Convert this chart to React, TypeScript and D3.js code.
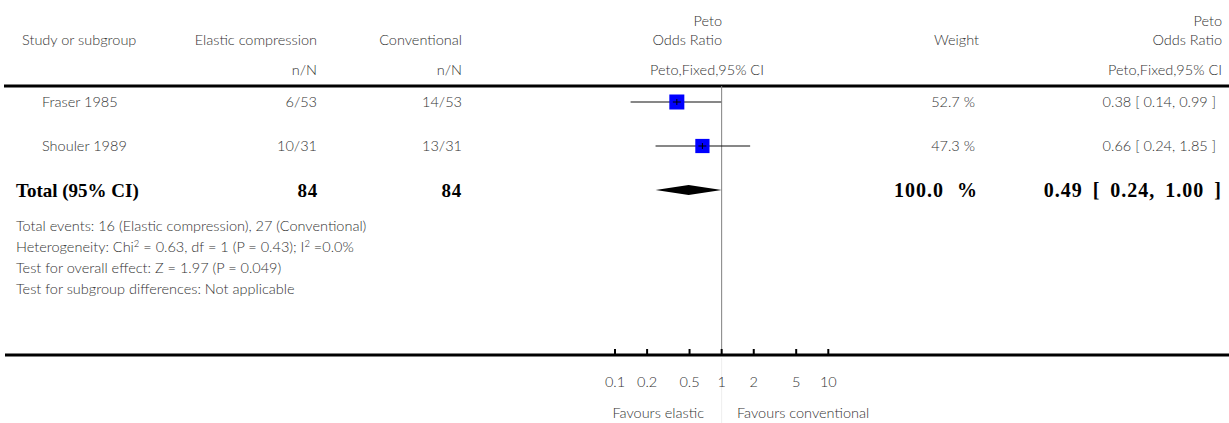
import React from "react";
import * as d3 from "d3";

const studies = ["Fraser 1985", "Shouler 1989"];
const elasticNN = ["6/53", "10/31"];
const conventionalNN = ["14/53", "13/31"];
const orValues = [0.38, 0.66];
const ciLow = [0.14, 0.24];
const ciHigh = [0.99, 1.85];
const weights = [52.7, 47.3];
const weightLabels = ["52.7 %", "47.3 %"];
const orLabels = ["0.38 [ 0.14, 0.99 ]", "0.66 [ 0.24, 1.85 ]"];
const totalOR = 0.49;
const totalLow = 0.24;
const totalHigh = 1.0;
const totalElastic = "84";
const totalConventional = "84";
const totalWeight = "100.0 %";
const totalLabel = "0.49 [ 0.24, 1.00 ]";
const ticks = [0.1, 0.2, 0.5, 1, 2, 5, 10];
const tickLabels = ["0.1", "0.2", "0.5", "1", "2", "5", "10"];

const SANS = "'Lato', 'Open Sans', sans-serif";
const SERIF = "'Liberation Serif', 'DejaVu Serif', serif";
const TXT = "#333";

export default function App() {
  const W = 1229;
  const H = 423;
  const x = d3.scaleLog().domain([0.1, 10]).range([615, 828.3]);
  const rowY = [102, 146];
  const totalY = 190;
  const headLineY = 86;
  const axisY = 355;
  const fs = 14.5;
  const sq = (w: number) => 15 * Math.sqrt(w / d3.max(weights)!);

  const diamond = [
    [x(totalLow), totalY],
    [x(totalOR), totalY - 5],
    [x(totalHigh), totalY],
    [x(totalOR), totalY + 5],
  ];

  const sansProps = { fontFamily: SANS, fontSize: fs, fill: TXT, fontWeight: 300 } as const;
  const boldProps = { fontFamily: SERIF, fontSize: 19, fill: "#000", fontWeight: 700 } as const;

  return (
    <svg width={W} height={H} style={{ position: "absolute", left: 0, top: 0 }}>
      <rect width={W} height={H} fill="#fff" />
      {/* headers */}
      <text x={22} y={45} {...sansProps}>Study or subgroup</text>
      <text x={317} y={45} textAnchor="end" {...sansProps}>Elastic compression</text>
      <text x={317} y={75} textAnchor="end" {...sansProps}>n/N</text>
      <text x={462} y={45} textAnchor="end" {...sansProps}>Conventional</text>
      <text x={462} y={75} textAnchor="end" {...sansProps}>n/N</text>
      <text x={722} y={26} textAnchor="end" {...sansProps}>Peto</text>
      <text x={722} y={45} textAnchor="end" {...sansProps}>Odds Ratio</text>
      <text x={707} y={75} textAnchor="middle" {...sansProps}>Peto,Fixed,95% CI</text>
      <text x={979} y={45} textAnchor="end" {...sansProps}>Weight</text>
      <text x={1222} y={26} textAnchor="end" {...sansProps}>Peto</text>
      <text x={1222} y={45} textAnchor="end" {...sansProps}>Odds Ratio</text>
      <text x={1222} y={75} textAnchor="end" {...sansProps}>Peto,Fixed,95% CI</text>
      <line x1={4} x2={W} y1={headLineY} y2={headLineY} stroke="#000" strokeWidth={3} />

      {/* null line */}
      <line x1={x(1)} x2={x(1)} y1={headLineY} y2={axisY} stroke="#808080" strokeWidth={1} />
      <line x1={x(1)} x2={x(1)} y1={axisY + 3} y2={H} stroke="#eee" strokeWidth={1} />

      {/* study rows */}
      {studies.map((s, i) => {
        const y = rowY[i];
        const cx = x(orValues[i]);
        const size = sq(weights[i]);
        return (
          <g key={s}>
            <text x={42} y={y + 5} {...sansProps}>{s}</text>
            <text x={317} y={y + 5} textAnchor="end" {...sansProps}>{elasticNN[i]}</text>
            <text x={462} y={y + 5} textAnchor="end" {...sansProps}>{conventionalNN[i]}</text>
            <line x1={x(ciLow[i])} x2={x(ciHigh[i])} y1={y} y2={y} stroke="#111" strokeWidth={1.2} />
            <rect x={cx - size / 2} y={y - size / 2} width={size} height={size} fill="#0000ff" />
            <line x1={cx - 4} x2={cx + 4} y1={y} y2={y} stroke="#000" strokeWidth={1} />
            <line x1={cx} x2={cx} y1={y - 3} y2={y + 3} stroke="#000" strokeWidth={1} />
            <text x={975} y={y + 5} textAnchor="end" {...sansProps}>{weightLabels[i]}</text>
            <text x={1216} y={y + 5} textAnchor="end" {...sansProps}>{orLabels[i]}</text>
          </g>
        );
      })}

      {/* total row */}
      <text x={16} y={totalY + 7} {...boldProps}>Total (95% CI)</text>
      <text x={318} y={totalY + 7} textAnchor="end" {...boldProps} letterSpacing={0.8}>{totalElastic}</text>
      <text x={462} y={totalY + 7} textAnchor="end" {...boldProps} letterSpacing={0.8}>{totalConventional}</text>
      <polygon points={diamond.map((p) => p.join(",")).join(" ")} fill="#000" />
      <text x={978} y={totalY + 7} textAnchor="end" {...boldProps} fontSize={20} letterSpacing={1} wordSpacing={7}>{totalWeight}</text>
      <text x={1222} y={totalY + 7} textAnchor="end" {...boldProps} fontSize={20} letterSpacing={1} wordSpacing={4}>{totalLabel}</text>

      {/* footnotes */}
      <text x={16} y={231} {...sansProps}>Total events: 16 (Elastic compression), 27 (Conventional)</text>
      <text x={16} y={252} {...sansProps}>
        Heterogeneity: Chi<tspan fontSize={9.5} dy={-5}>2</tspan>
        <tspan dy={5}> = 0.63, df = 1 (P = 0.43); I</tspan>
        <tspan fontSize={9.5} dy={-5}>2</tspan>
        <tspan dy={5}> =0.0%</tspan>
      </text>
      <text x={16} y={273} {...sansProps}>Test for overall effect: Z = 1.97 (P = 0.049)</text>
      <text x={16} y={294} {...sansProps}>Test for subgroup differences: Not applicable</text>

      {/* axis */}
      <line x1={5} x2={W} y1={axisY} y2={axisY} stroke="#000" strokeWidth={3} />
      {ticks.map((t, i) => (
        <g key={t}>
          <line x1={x(t)} x2={x(t)} y1={axisY - 6} y2={axisY} stroke="#000" strokeWidth={2} />
          <text x={x(t)} y={387} textAnchor="middle" {...sansProps}>{tickLabels[i]}</text>
        </g>
      ))}
      <text x={704} y={418} textAnchor="end" {...sansProps}>Favours elastic</text>
      <text x={737} y={418} textAnchor="start" {...sansProps}>Favours conventional</text>
    </svg>
  );
}
